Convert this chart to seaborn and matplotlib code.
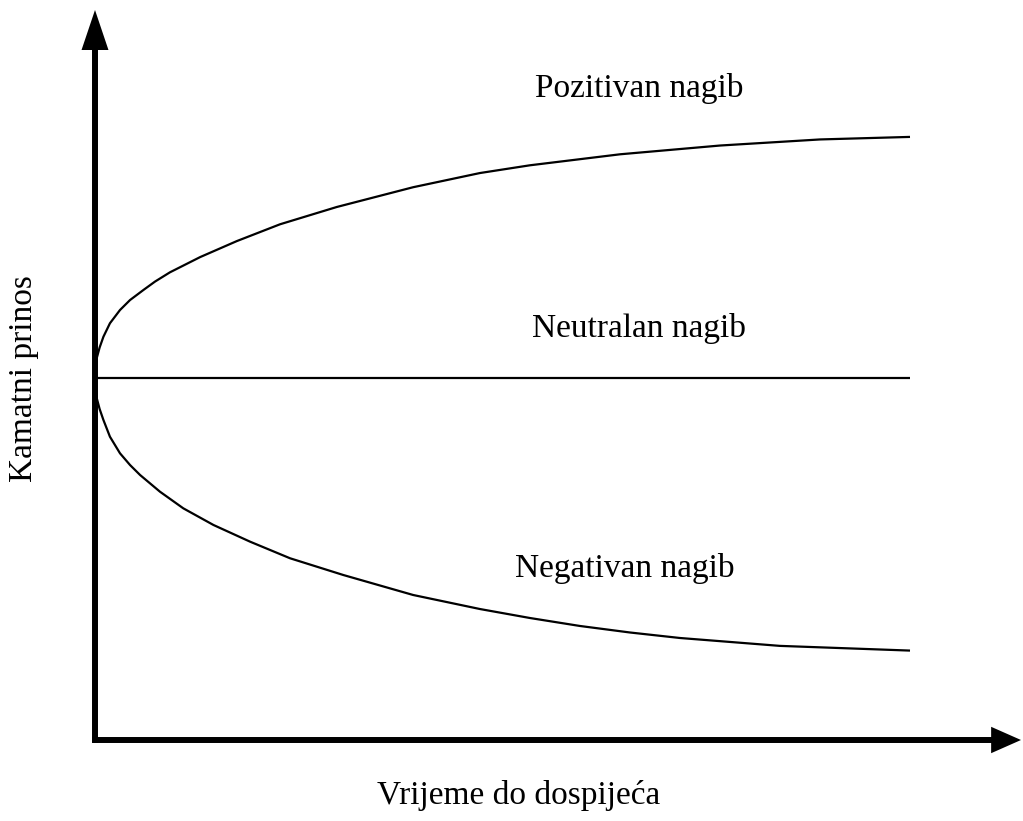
import matplotlib
matplotlib.use("Agg")
import matplotlib.pyplot as plt
import seaborn as sns
import pandas as pd

# values (maturity in years, yield in %)
maturity_pos = [0, 0.07, 0.17, 0.31, 0.55, 0.92, 1.29, 1.78, 2.21, 2.76, 3.87,
                5.22, 6.81, 8.90, 11.71, 14.17, 16.01, 19.33, 23.01, 26.69, 30]
yield_pos = [5.0, 5.283, 5.421, 5.570, 5.756, 5.939, 6.077, 6.215, 6.332, 6.460,
             6.670, 6.891, 7.123, 7.362, 7.635, 7.831, 7.938, 8.090, 8.211, 8.295, 8.330]

maturity_flat = [0, 30]
yield_flat = [5.0, 5.0]

maturity_neg = [0, 0.07, 0.17, 0.31, 0.55, 0.92, 1.29, 1.66, 2.39, 3.25, 4.36,
                5.71, 7.18, 9.14, 11.71, 14.17, 16.01, 17.85, 19.69, 21.53, 25.21, 30]
yield_neg = [5.0, 4.713, 4.572, 4.420, 4.189, 3.960, 3.798, 3.660, 3.430, 3.200, 2.970,
             2.739, 2.510, 2.279, 2.003, 1.809, 1.685, 1.575, 1.485, 1.409, 1.300, 1.235]

curve_labels = ["Pozitivan nagib", "Neutralan nagib", "Negativan nagib"]
label_x = [20.04, 20.04, 19.49]
label_y = [8.885, 5.57, 2.255]

x_title = "Vrijeme do dospijeća"
y_title = "Kamatni prinos"

sns.set_theme(style="white")
plt.rcParams["font.family"] = ["Liberation Serif", "DejaVu Serif"]

fig = plt.figure(figsize=(10.23, 8.21), dpi=100)
ax = fig.add_axes([95 / 1023, 81 / 821, (1021 - 95) / 1023, 730 / 821])

curves = [(maturity_pos, yield_pos), (maturity_flat, yield_flat), (maturity_neg, yield_neg)]
for xs, ys in curves:
    df = pd.DataFrame({"maturity": xs, "yield": ys})
    sns.lineplot(data=df, x="maturity", y="yield", ax=ax, color="black",
                 linewidth=1.6, estimator=None, clip_on=False,
                 solid_joinstyle="round", solid_capstyle="butt")

ax.set_xlim(0, 30 * 926 / 815)
ax.set_ylim(0, 730 / 72.4)
ax.axis("off")

# axis arrows
ax.annotate("", xy=(0, 1), xytext=(0, -0.004), xycoords="axes fraction",
            textcoords="axes fraction", annotation_clip=False,
            arrowprops=dict(arrowstyle="simple,head_length=28.8,head_width=19.4,tail_width=4.3",
                            mutation_scale=1, fc="black", lw=0, shrinkA=0, shrinkB=0))
ax.annotate("", xy=(1, 0), xytext=(-0.003, 0), xycoords="axes fraction",
            textcoords="axes fraction", annotation_clip=False,
            arrowprops=dict(arrowstyle="simple,head_length=21.5,head_width=19,tail_width=4.3",
                            mutation_scale=1, fc="black", lw=0, shrinkA=0, shrinkB=0))

for txt, lx, ly in zip(curve_labels, label_x, label_y):
    ax.text(lx, ly, txt, fontsize=24, ha="center", va="baseline", color="black")

fig.text(518.5 / 1023, 17 / 821, x_title, fontsize=24, ha="center", va="baseline",
         color="black")
fig.text(24 / 1023, (821 - 379) / 821, y_title, fontsize=24, ha="center", va="center",
         rotation=90, color="black")

fig.savefig("out.png", dpi=100)
